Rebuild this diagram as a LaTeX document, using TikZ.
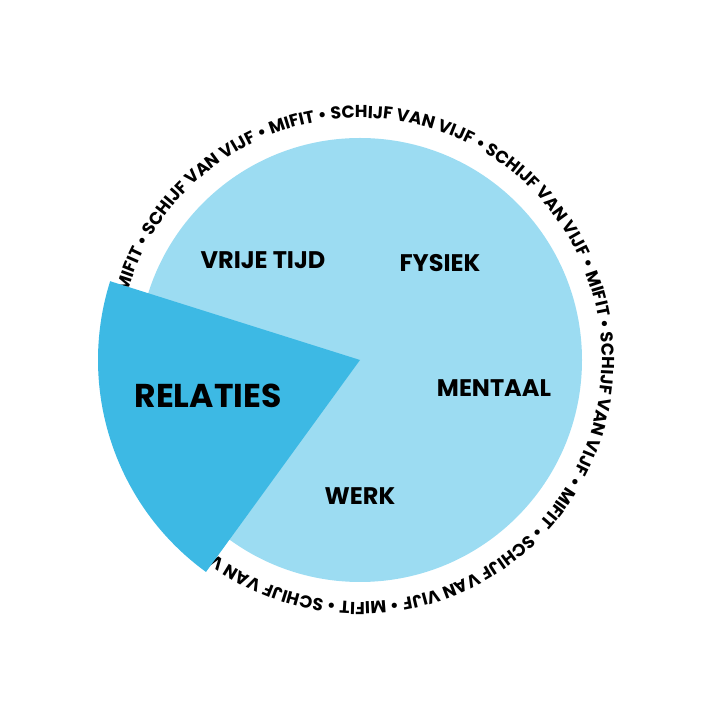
\documentclass[tikz,border=0pt]{standalone}
\usepackage{fontspec}
\setmainfont{Poppins}[BoldFont=* Bold]
\usetikzlibrary{decorations.text}
\definecolor{lightb}{HTML}{9CDCF2}
\definecolor{darkb}{HTML}{3DB9E4}
\tikzset{lab/.style={font=\bfseries\fontsize{24}{28}\selectfont}}
\begin{document}
\begin{tikzpicture}[x=1pt,y=1pt]
\useasboundingbox (0,0) rectangle (720,720);
\fill[lightb] (360,360) circle (222);
\path[decorate,decoration={text along path,text align=left,
  text={|\bfseries\fontsize{17.3}{18}\selectfont|MIFIT • SCHIJF VAN VIJF • MIFIT • SCHIJF VAN VIJF • SCHIJF VAN VIJF • MIFIT • SCHIJF VAN VIJF • MIFIT • SCHIJF VAN VIJF • MIFIT • SCHIJF VAN V}}]
  (360,360) ++(164:242) arc[start angle=164,end angle=-140,radius=242];
\fill[darkb] (360,360) -- ++(162.5:262) arc[start angle=162.5,end angle=234,radius=262] -- cycle;
\node[lab] (vt) at (263,460) {VRIJE TIJD};
\node[lab] (fy) at (440,457) {FYSIEK};
\node[lab] (me) at (494,332) {MENTAAL};
\node[lab] (we) at (360,224) {WERK};
\node[font=\bfseries\fontsize{33}{38}\selectfont] (re) at (208,324) {RELATIES};
\end{tikzpicture}
\end{document}
